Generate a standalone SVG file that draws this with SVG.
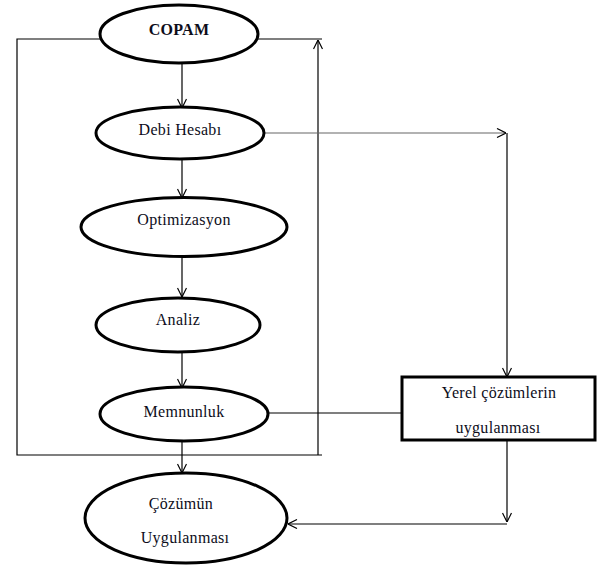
<svg xmlns="http://www.w3.org/2000/svg" width="600" height="570" viewBox="0 0 600 570">
<style>
.node{fill:#fff;stroke:#000;stroke-width:3}
.t{font-family:"Liberation Serif","Times New Roman",serif;font-size:16px;letter-spacing:0.3px;fill:#0d0d1a;text-anchor:middle}
.b{font-weight:bold}
.c{fill:none;stroke:#000;stroke-width:1.2}
.g{stroke:#666}
</style>
<defs>
<marker id="a" viewBox="0 0 10 10" refX="10" refY="5" markerWidth="10" markerHeight="10" markerUnits="userSpaceOnUse" orient="auto">
<path d="M1,0.5 L10,5 L1,9.5" fill="none" stroke="#000" stroke-width="1.2"/>
</marker>
</defs>
<rect width="600" height="570" fill="#fff"/>
<g id="connectors">
<polyline class="c" points="100,39 17,39 17,455 322,455"/>
<polyline class="c" points="258,39 322,39"/>
<line class="c" x1="318" y1="455" x2="318" y2="40" marker-end="url(#a)"/>
<line class="c" x1="182" y1="63" x2="182" y2="108" marker-end="url(#a)"/>
<line class="c" x1="182" y1="159" x2="182" y2="198" marker-end="url(#a)"/>
<line class="c" x1="182" y1="257" x2="182" y2="297" marker-end="url(#a)"/>
<line class="c" x1="182" y1="352" x2="182" y2="388" marker-end="url(#a)"/>
<line class="c" x1="182" y1="441" x2="182" y2="473" marker-end="url(#a)"/>
<line class="c g" x1="264" y1="133" x2="506" y2="133" marker-end="url(#a)"/>
<line class="c" x1="507" y1="133" x2="507" y2="377" marker-end="url(#a)"/>
<line class="c" x1="268" y1="413" x2="402" y2="413"/>
<line class="c" x1="507" y1="441" x2="507" y2="522" marker-end="url(#a)"/>
<line class="c" x1="507" y1="524" x2="288" y2="524" marker-end="url(#a)"/>
</g>
<g id="copam">
<ellipse class="node" cx="179" cy="34" rx="79" ry="29"/>
<text class="t b" x="179" y="35">COPAM</text>
</g>
<g id="debi">
<ellipse class="node" cx="180" cy="133" rx="84" ry="26"/>
<text class="t" x="180" y="135">Debi Hesabı</text>
</g>
<g id="optimizasyon">
<ellipse class="node" cx="184" cy="227" rx="103" ry="29.5"/>
<text class="t" x="184" y="225">Optimizasyon</text>
</g>
<g id="analiz">
<ellipse class="node" cx="178" cy="325" rx="82" ry="27"/>
<text class="t" x="178" y="325">Analiz</text>
</g>
<g id="memnunluk">
<ellipse class="node" cx="184" cy="414" rx="84" ry="27"/>
<text class="t" x="184" y="417">Memnunluk</text>
</g>
<g id="cozumun">
<ellipse class="node" cx="186" cy="518" rx="101" ry="45"/>
<text class="t" x="181" y="509">Çözümün</text>
<text class="t" x="185" y="543">Uygulanması</text>
</g>
<g id="yerel">
<rect class="node" x="402" y="377" width="193" height="63"/>
<text class="t" x="499" y="398">Yerel çözümlerin</text>
<text class="t" x="498" y="433">uygulanması</text>
</g>
</svg>
